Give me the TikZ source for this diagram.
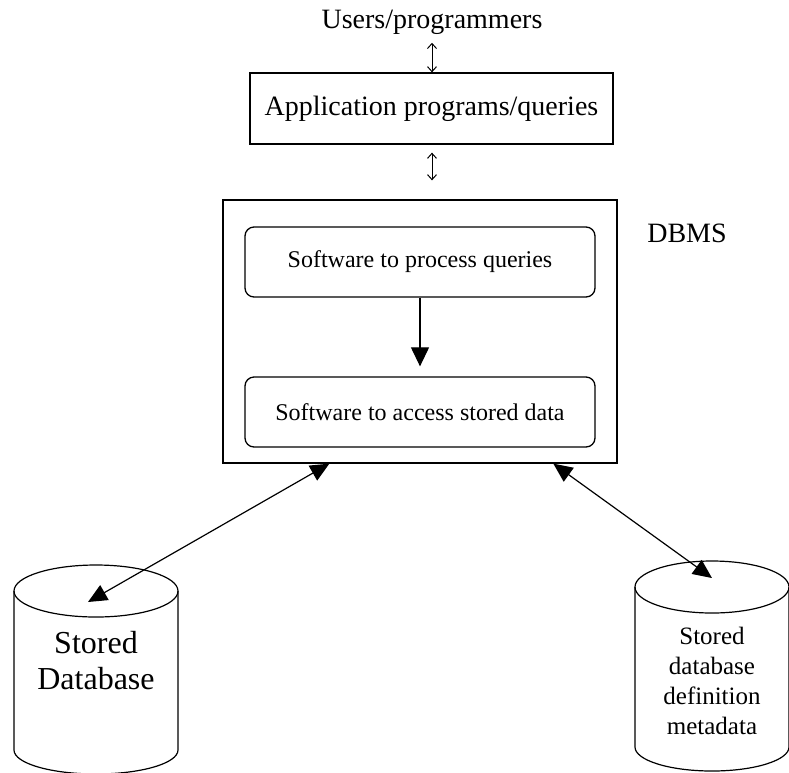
\documentclass[tikz,border=0pt]{standalone}
\usepackage{fontspec}
\setmainfont{Liberation Serif}
\usepackage{tikz}
\usetikzlibrary{positioning}
\usetikzlibrary{arrows.meta}
\tikzset{%
  bigarrow/.style = {-{Triangle[length=19pt,width=18pt]},line width=1.2pt},
  twoarrow/.style = {{Triangle[length=19pt,width=17pt]}-{Triangle[length=19pt,width=17pt]},line width=1.2pt},
  smallarrow/.style = {{Straight Barb[length=5pt,width=9pt]}-{Straight Barb[length=5pt,width=9pt]},line width=1pt},
  b/.style = {rectangle,draw,line width=1.3pt,inner sep=0pt},
  rb/.style = {rectangle,draw,rounded corners=9pt,line width=1.3pt,inner sep=0pt,
        minimum width=350pt,minimum height=70pt},
  big/.style = {font=\fontsize{28}{32}\selectfont},
  mid/.style = {font=\fontsize{24}{28}\selectfont}
}

\begin{document}
\begin{tikzpicture}[x=1pt,y=-1pt]
  \useasboundingbox (0,0) rectangle (789,772);
  % top part
  \node[big] (users) at (432,22) {Users/programmers};
  \node[b,big,minimum width=363pt,minimum height=71pt] (app) at (431.5,108.5) {Application programs/queries};
  \draw[smallarrow,shorten <=5pt] (users.south) -- (users.south |- app.north);
  % dbms
  \node[b,minimum width=394pt,minimum height=263pt] (dbms) at (420,331.5) {};
  \node[big] (dbmslabel) at (687,233) {DBMS};
  \node[rb,mid] (proc) at (420,262) {Software to process queries};
  \node[rb,mid] (access) at (420,412) {Software to access stored data};
  \draw[smallarrow,shorten <=8pt,shorten >=19pt] (users.south |- app.south) -- (users.south |- dbms.north);
  \draw[bigarrow,shorten >=10pt] (proc.south) -- (access.north);
  % cylinders
  \draw[line width=1.2pt] (96,591) ellipse [x radius=82,y radius=26];
  \draw[line width=1.2pt] (14,591) -- (14,750) arc[start angle=180,end angle=0,x radius=82,y radius=24] -- (178,591);
  \draw[line width=1.2pt] (712,587) ellipse [x radius=77,y radius=26];
  \draw[line width=1.2pt] (635,587) -- (635,747) arc[start angle=180,end angle=0,x radius=77,y radius=24] -- (789,587);
  \node[align=center,font=\fontsize{32}{36}\selectfont] (storeddb) at (96,661) {Stored\\Database};
  \node[align=center,font=\fontsize{25}{30}\selectfont] (meta) at (712,681) {Stored\\database\\definition\\metadata};
  \coordinate (dbtop) at (88,602);
  \coordinate (metatop) at (712,578);
  \draw[twoarrow] ([xshift=107pt]dbms.south west) -- (dbtop);
  \draw[twoarrow] ([xshift=331pt]dbms.south west) -- (metatop);
\end{tikzpicture}
\end{document}
